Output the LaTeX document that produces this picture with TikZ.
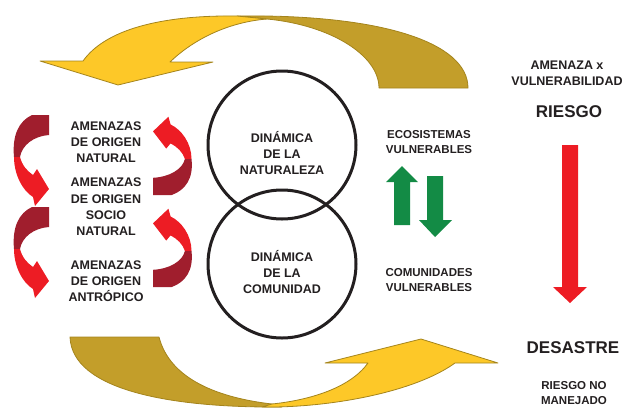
\documentclass[tikz,border=0pt]{standalone}
\usepackage{fontspec}
\setmainfont{Liberation Sans}
\definecolor{txt}{HTML}{231F20}
\definecolor{darkgold}{HTML}{C39E2A}
\definecolor{yellowgold}{HTML}{FDC828}
\definecolor{goldline}{HTML}{A4841C}
\definecolor{darkred}{HTML}{A01E2D}
\definecolor{brightred}{HTML}{ED1C24}
\definecolor{grn}{HTML}{138B45}
\tikzset{
  lbl/.style={text=txt, align=center, inner sep=0pt, font=\fontsize{12.5}{16.3}\selectfont\bfseries},
  slbl/.style={text=txt, align=center, inner sep=0pt, font=\fontsize{11.5}{15}\selectfont\bfseries},
  big/.style={text=txt, align=center, inner sep=0pt, font=\fontsize{17}{20}\selectfont\bfseries},
  ring/.style={circle, draw=txt, line width=3pt, minimum size=148pt, inner sep=0pt},
  backband/.style={fill=darkgold, draw=goldline, line width=0.8pt, line join=round},
  frontband/.style={fill=yellowgold, draw=goldline, line width=0.8pt, line join=round},
}
\newcommand{\leftredarrow}{%
  \fill[darkred] (-17,0) -- (0,0) -- (0,20) .. controls (-15,21) and (-27,30) .. (-29,42)
     -- (-35,42) .. controls (-37,20) and (-30,6) .. (-17,0) -- cycle;
  \fill[brightred] (-35,42) .. controls (-35,60) and (-26,76) .. (-16,82) -- (-14,91) -- (0,74)
     -- (-12,54) -- (-16,60) .. controls (-22,56) and (-27,50) .. (-29,42) -- cycle;
}
\begin{document}
\begin{tikzpicture}[x=1pt,y=-1pt]
\useasboundingbox (0,0) rectangle (624,408);
% top ribbon arrow
\path[backband] (237,16) .. controls (380,14) and (468,42) .. (468,88) -- (379,88)
   .. controls (379,55) and (330,25) .. (267,19) -- cycle;
\path[frontband] (40,61) -- (83,61) .. controls (105,30) and (160,15) .. (237,16) -- (267,19)
   .. controls (230,22) and (195,38) .. (170,62) -- (213,62) -- (118,85) -- cycle;
% bottom ribbon arrow
\path[backband] (70,337) -- (159,337) .. controls (170,380) and (220,398) .. (272,404)
   -- (282,407) .. controls (170,408) and (72,390) .. (70,337) -- cycle;
\path[frontband] (262,407) .. controls (330,408) and (415,392) .. (455,363) -- (498,363)
   -- (421,339) -- (325,363) -- (368,363) .. controls (350,388) and (310,400) .. (272,404) -- cycle;
% circles
\node[ring] (c1) at (282,145) {};
\node[ring] (c2) at (282,264) {};
\node[lbl] (dnat) at (282,153) {DINÁMICA\\DE LA\\NATURALEZA};
\node[lbl] (dcom) at (282,272) {DINÁMICA\\DE LA\\COMUNIDAD};
% left labels
\node[lbl] (nat) at (106,142) {AMENAZAS\\DE ORIGEN\\NATURAL};
\node[lbl] (socio) at (106,207) {AMENAZAS\\DE ORIGEN\\SOCIO\\NATURAL};
\node[lbl] (antr) at (106,281) {AMENAZAS\\DE ORIGEN\\ANTRÓPICO};
% red curved arrows
\begin{scope}[shift={(49,115)}]\leftredarrow\end{scope}
\begin{scope}[shift={(49,207)}]\leftredarrow\end{scope}
\begin{scope}[shift={(153,195)}, xscale=-1.1, yscale=-0.86]\leftredarrow\end{scope}
\begin{scope}[shift={(153,287)}, xscale=-1.1, yscale=-0.86]\leftredarrow\end{scope}
% middle right labels
\node[slbl] (eco) at (429,142.5) {ECOSISTEMAS\\VULNERABLES};
\node[slbl] (comu) at (429,280.5) {COMUNIDADES\\VULNERABLES};
\fill[grn] (394,225) -- (394,182) -- (386,182) -- (402,166) -- (418,182) -- (410,182) -- (410,225) -- cycle;
\fill[grn] (427,176) -- (443,176) -- (443,220) -- (452,220) -- (435,237) -- (419,220) -- (427,220) -- cycle;
% right column
\node[lbl] (amx) at (567,73.5) {AMENAZA x\\VULNERABILIDAD};
\node[big] (riesgo) at (569,112) {RIESGO};
\fill[brightred] (562,145) -- (578,145) -- (578,287) -- (587,287) -- (570,303) -- (553,287) -- (562,287) -- cycle;
\node[big] (desastre) at (573,348) {DESASTRE};
\node[slbl] (rnm) at (574,393.5) {RIESGO NO\\MANEJADO};
\end{tikzpicture}
\end{document}
